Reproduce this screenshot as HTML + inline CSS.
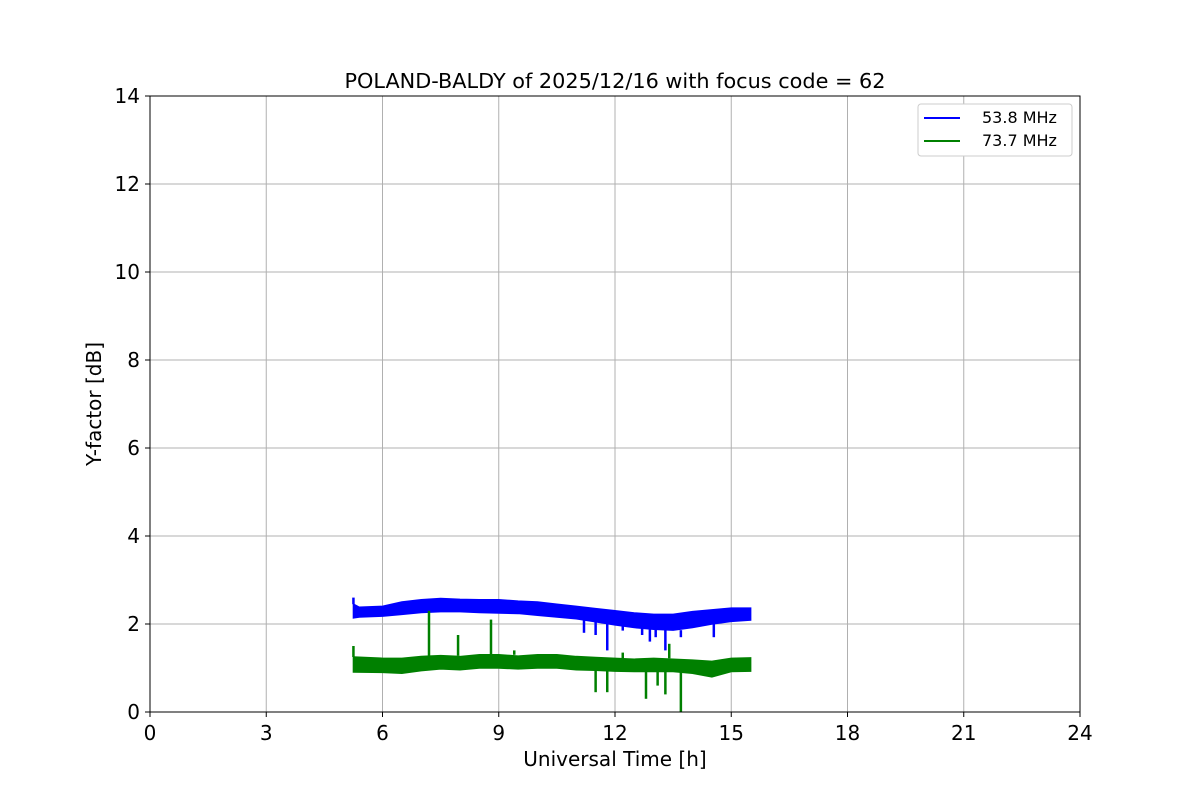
<!DOCTYPE html>
<html><head><meta charset="utf-8"><style>
body{margin:0;background:#fff;}
svg{font-family:"DejaVu Sans","Liberation Sans",sans-serif;}
</style></head><body>
<svg id="chart" width="1200" height="800" xmlns="http://www.w3.org/2000/svg"></svg>
<script>
const xTicks=[0,3,6,9,12,15,18,21,24];
const yTicks=[0,2,4,6,8,10,12,14];
const blueT=[5.25,5.4,6,6.5,7,7.5,8,8.5,9,9.5,10,10.5,11,11.5,12,12.5,13,13.5,14,14.5,15,15.5];
const blueHi=[2.45,2.38,2.4,2.5,2.55,2.58,2.56,2.55,2.55,2.52,2.5,2.45,2.4,2.35,2.3,2.25,2.22,2.22,2.28,2.32,2.36,2.36];
const blueLo=[2.14,2.16,2.18,2.22,2.26,2.28,2.28,2.26,2.25,2.24,2.2,2.16,2.12,2.05,1.98,1.92,1.88,1.86,1.92,2.0,2.06,2.09];
const blueSpikeT=[5.25,11.2,11.5,11.8,12.2,12.7,12.9,13.05,13.3,13.7,14.55];
const blueSpikeV=[2.6,1.8,1.75,1.4,1.85,1.75,1.6,1.7,1.4,1.7,1.7];
const greenT=[5.25,6,6.5,7,7.5,8,8.5,9,9.5,10,10.5,11,11.5,12,12.5,13,13.5,14,14.5,15,15.5];
const greenHi=[1.25,1.22,1.22,1.26,1.28,1.26,1.3,1.3,1.27,1.3,1.3,1.26,1.24,1.22,1.2,1.22,1.2,1.18,1.15,1.22,1.23];
const greenLo=[0.91,0.9,0.88,0.94,0.98,0.96,1.0,1.0,0.98,1.0,1.0,0.96,0.95,0.93,0.92,0.92,0.92,0.88,0.8,0.92,0.93];
const greenSpikeT=[5.25,7.2,7.95,8.8,9.4,12.2,13.4,11.5,11.8,12.8,13.1,13.3,13.7];
const greenSpikeV=[1.5,2.3,1.75,2.1,1.4,1.35,1.55,0.45,0.45,0.3,0.6,0.4,0.0];

const L=150,R=1080,T=96,B=712;
const xs=v=>L+(v/24)*(R-L);
const ys=v=>B-(v/14)*(B-T);
const svg=document.getElementById('chart');
const NS='http://www.w3.org/2000/svg';
function mk(tag,attrs,text){const e=document.createElementNS(NS,tag);for(const k in attrs)e.setAttribute(k,attrs[k]);if(text!=null)e.textContent=text;svg.appendChild(e);return e;}

xTicks.forEach(t=>{
  const g=mk('line',{x1:xs(t),x2:xs(t),y1:T,y2:B,stroke:'#b0b0b0','stroke-width':1});
  
  
  const tk=mk('line',{x1:xs(t),x2:xs(t),y1:B,y2:B+5,stroke:'#000'});
  
  
  const lb=mk('text',{x:xs(t),y:B+28,'text-anchor':'middle','font-size':20},String(t));
  
  
});
yTicks.forEach(t=>{
  const g=mk('line',{x1:L,x2:R,y1:ys(t),y2:ys(t),stroke:'#b0b0b0','stroke-width':1});
  
  
  const tk=mk('line',{x1:L-5,x2:L,y1:ys(t),y2:ys(t),stroke:'#000'});
  
  
  const lb=mk('text',{x:L-10,y:ys(t)+7,'text-anchor':'end','font-size':20},String(t));
  
  
});

function band(tArr,hi,lo,color,name){
  let d='M'+tArr.map((t,i)=>xs(t)+','+ys(hi[i])).join(' L');
  d+=' L'+tArr.slice().reverse().map((t,j)=>{const i=tArr.length-1-j;return xs(t)+','+ys(lo[i]);}).join(' L')+' Z';
  const p=mk('path',{d:d,fill:color,stroke:color,'stroke-width':1.5});
  
  
}
function spikes(tArr,vArr,hi,lo,bt,color,name){
  tArr.forEach((t,i)=>{
    let k=0;while(k<bt.length-1&&bt[k+1]<t)k++;
    const edge=vArr[i]>hi[k]?hi[k]:lo[k];
    const s=mk('line',{x1:xs(t),x2:xs(t),y1:ys(edge),y2:ys(vArr[i]),stroke:color,'stroke-width':2.5});
    
    
  });
}
band(blueT,blueHi,blueLo,'#0000ff','series-53-8-mhz');
spikes(blueSpikeT,blueSpikeV,blueHi,blueLo,blueT,'#0000ff','spike-53-8-mhz');
band(greenT,greenHi,greenLo,'#008000','series-73-7-mhz');
spikes(greenSpikeT,greenSpikeV,greenHi,greenLo,greenT,'#008000','spike-73-7-mhz');

const fr=mk('rect',{x:L,y:T,width:R-L,height:B-T,fill:'none',stroke:'#000','stroke-width':1});


const ti=mk('text',{x:615,y:88,'text-anchor':'middle','font-size':20.8},'POLAND-BALDY of 2025/12/16 with focus code = 62');


const xt=mk('text',{x:615,y:766,'text-anchor':'middle','font-size':20},'Universal Time [h]');


const yt=mk('text',{x:101,y:404,'text-anchor':'middle','font-size':20,transform:'rotate(-90 101 404)'},'Y-factor [dB]');



const lg=mk('rect',{x:918,y:104,width:154,height:52,fill:'#fff',stroke:'#ccc',rx:3});


[['#0000ff','53.8 MHz',118],['#008000','73.7 MHz',141]].forEach(([c,l,y])=>{
  const ln=mk('line',{x1:924,x2:960,y1:y,y2:y,stroke:c,'stroke-width':2});
  
  
  const tx=mk('text',{x:982,y:y+5,'font-size':16},l);
  
  
});
</script>
</body></html>
